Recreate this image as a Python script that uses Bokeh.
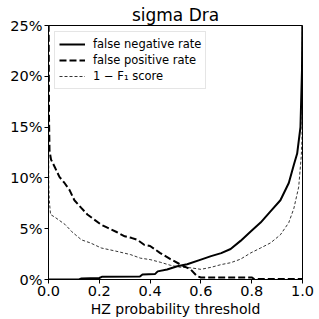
from bokeh.plotting import figure
from bokeh.models import NumeralTickFormatter, FixedTicker, Legend, LegendItem, Range1d
from bokeh.embed import file_html
from bokeh.resources import INLINE

title_text = "sigma Dra"
x_label = "HZ probability threshold"

fnr_x = [0, 0.12, 0.13, 0.2, 0.21, 0.36, 0.37, 0.42, 0.43, 0.467, 0.507, 0.546, 0.6,
         0.64, 0.68, 0.717, 0.756, 0.795, 0.835, 0.874, 0.913, 0.946, 0.966, 0.979,
         0.992, 0.998, 1.0]
fnr_y = [0, 0, 0.1, 0.15, 0.26, 0.3, 0.5, 0.55, 0.8, 0.98, 1.3, 1.5, 1.96,
         2.3, 2.6, 3.0, 3.8, 4.7, 5.6, 6.7, 7.8, 9.5, 11.3, 12.4,
         15.0, 20.6, 27]

fpr_x = [0, 0.002, 0.004, 0.01, 0.024, 0.043, 0.063, 0.083, 0.102, 0.129, 0.153, 0.18,
         0.207, 0.232, 0.266, 0.3, 0.326, 0.35, 0.378, 0.4, 0.44, 0.48, 0.52, 0.56,
         0.585, 0.6, 0.8, 0.81, 1.0]
fpr_y = [30, 16, 12.7, 11.8, 11.1, 10.1, 9.5, 8.8, 7.8, 7.05, 6.4, 5.9,
         5.4, 5.1, 4.7, 4.25, 4.1, 3.9, 3.4, 3.3, 2.6, 2.0, 1.47, 0.98,
         0.33, 0.2, 0.2, 0.05, 0.05]

f1_x = [0, 0.001, 0.003, 0.008, 0.027, 0.066, 0.092, 0.13, 0.165, 0.208, 0.264, 0.323,
        0.362, 0.4, 0.44, 0.48, 0.52, 0.56, 0.6, 0.64, 0.68, 0.717, 0.756, 0.795,
        0.835, 0.874, 0.913, 0.946, 0.966, 0.985, 0.995, 0.998, 1.0]
f1_y = [25, 9.5, 7.8, 6.4, 6.1, 5.4, 4.7, 3.9, 3.6, 3.1, 2.8, 2.45,
        2.1, 1.96, 1.7, 1.4, 1.2, 1.15, 1.0, 1.2, 1.47, 1.65, 2.0, 2.6,
        3.1, 3.6, 4.4, 5.6, 7.0, 9.1, 12.1, 13.7, 27]

x_ticks = [0.0, 0.2, 0.4, 0.6, 0.8, 1.0]
y_ticks = [0.0, 0.05, 0.10, 0.15, 0.20, 0.25]

FONT = "DejaVu Sans"

p = figure(width=319, height=319, output_backend="svg", toolbar_location=None,
           x_range=Range1d(0, 1), y_range=Range1d(0, 0.25),
           min_border_left=48, min_border_right=17, min_border_top=25, min_border_bottom=39)

p.title.text = title_text
p.title.text_font = FONT
p.title.text_font_size = "17px"
p.title.text_font_style = "normal"
p.title.text_color = "black"
p.title.align = "center"
p.title.standoff = 2

p.grid.visible = False
p.outline_line_color = "black"
p.outline_line_width = 1
p.outline_line_alpha = 1

for ax in (p.xaxis[0], p.yaxis[0]):
    ax.major_label_text_font = FONT
    ax.major_label_text_font_size = "14.5px"
    ax.major_label_text_color = "black"
    ax.axis_line_color = "black"
    ax.major_tick_line_color = "black"
    ax.major_tick_in = 0
    ax.major_tick_out = 4
    ax.minor_tick_line_color = None
    ax.major_label_standoff = 2

p.xaxis[0].ticker = FixedTicker(ticks=x_ticks)
p.yaxis[0].ticker = FixedTicker(ticks=y_ticks)
p.xaxis[0].formatter = NumeralTickFormatter(format="0.0")
p.yaxis[0].formatter = NumeralTickFormatter(format="0%")
p.xaxis[0].axis_label = x_label
p.xaxis[0].axis_label_text_font = FONT
p.xaxis[0].axis_label_text_font_size = "14px"
p.xaxis[0].axis_label_text_font_style = "normal"
p.xaxis[0].axis_label_text_color = "black"
p.xaxis[0].axis_label_standoff = 2

r1 = p.line([x for x in fnr_x], [y / 100 for y in fnr_y], line_color="black", line_width=2)
r2 = p.line([x for x in fpr_x], [y / 100 for y in fpr_y], line_color="black", line_width=2,
            line_dash="7 3")
r3 = p.line([x for x in f1_x], [y / 100 for y in f1_y], line_color="black", line_width=0.8,
            line_dash="3 2")

legend = Legend(items=[
    LegendItem(label="false negative rate", renderers=[r1]),
    LegendItem(label="false positive rate", renderers=[r2]),
    LegendItem(label="1 \u2212 F\u2081 score", renderers=[r3]),
], location="top_left")
legend.margin = 6
legend.padding = 4
legend.spacing = 0
legend.glyph_width = 26
legend.glyph_height = 16
legend.label_height = 16
legend.label_standoff = 8
legend.label_text_font = FONT
legend.label_text_font_size = "11.5px"
legend.label_text_color = "black"
legend.border_line_color = "#cccccc"
legend.border_line_width = 1
legend.background_fill_alpha = 0.8
p.add_layout(legend)

open("out.html", "w").write(file_html(p, INLINE))
